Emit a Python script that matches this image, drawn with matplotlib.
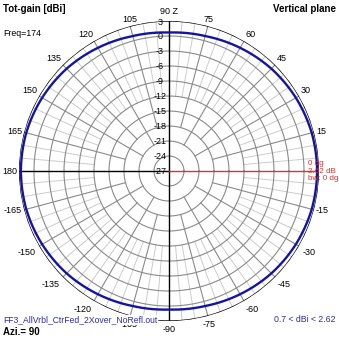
import numpy as np
import matplotlib
matplotlib.use("Agg")
import matplotlib.pyplot as plt

# -------------------------------------------------------------------------------
# Data
# -------------------------------------------------------------------------------

# elevation angle of each pattern sample [deg]
elev_deg = [0, 15, 30, 45, 60, 75, 90, 105, 120, 135, 150, 165, 180,
            195, 210, 225, 240, 255, 270, 285, 300, 315, 330, 345, 360]
# total gain [dBi]
gain_dbi = [2.62, 2.55, 2.3, 1.95, 1.45, 0.95, 0.7, 0.95, 1.45, 1.95, 2.3, 2.55, 2.62,
            2.55, 2.3, 1.95, 1.45, 0.95, 0.7, 0.95, 1.45, 1.95, 2.3, 2.55, 2.62]

ring_levels = [3, 0, -3, -6, -9, -12, -15, -18, -21, -24, -27]
angle_labels = [90, 105, 120, 135, 150, 165, 180, -165, -150, -135, -120, -105,
                -90, -75, -60, -45, -30, -15, 15, 30, 45, 60, 75]

R_MIN, R_MAX = -27, 3

plt.rcParams['font.family'] = ['Liberation Sans', 'DejaVu Sans']

fig = plt.figure(figsize=(3.39, 3.39), dpi=100)
ax = fig.add_axes([0.056, 0.053, 0.885, 0.885], projection='polar')
ax.set_ylim(R_MIN, R_MAX)
ax.grid(False)
ax.set_xticks([])
ax.set_yticks([])
ax.spines['polar'].set_visible(False)
ax.set_facecolor('white')

th = np.linspace(0, 2 * np.pi, 361)

# rings
for lev in ring_levels[1:-1]:
    ax.plot(th, np.full_like(th, lev), color='#8a8a8a', lw=0.8, zorder=1)
ax.plot(th, np.full_like(th, R_MAX), color='black', lw=1.0, zorder=3)

# spokes: 30 deg from -21, 15 deg from -18, 5 deg from -12
for a in range(0, 360, 5):
    if a % 90 == 0:
        continue
    t = np.radians(a)
    if a % 30 == 0:
        ax.plot([t, t], [-21, R_MAX], color='#8a8a8a', lw=0.8, zorder=1)
    elif a % 15 == 0:
        ax.plot([t, t], [-18, R_MAX], color='#8a8a8a', lw=0.8, zorder=1)
    else:
        ax.plot([t, t], [-12, R_MAX], color='#cccccc', lw=0.7, zorder=0.5)

# axes lines
ax.plot([np.pi / 2, np.pi / 2], [R_MAX, R_MIN], color='black', lw=1.0, zorder=2)
ax.plot([-np.pi / 2, -np.pi / 2], [R_MAX, R_MIN], color='black', lw=1.0, zorder=2)
ax.plot([np.pi, np.pi], [R_MAX, R_MIN], color='black', lw=1.0, zorder=2)
ax.plot([0, 0], [R_MIN, R_MAX], color='#e03030', lw=1.0, zorder=2)

# ring labels along the vertical axis
for lev in ring_levels:
    dy = -1.0 if lev == R_MAX else 0
    ax.annotate(str(lev), xy=(np.pi / 2, lev), xytext=(-6.5, dy),
                textcoords='offset points', ha='center', va='center',
                fontsize=6.5, color='black', zorder=4)

# angle labels outside the circle
for a in angle_labels:
    t = np.radians(a)
    c, s = np.cos(t), np.sin(t)
    ha = 'left' if c > 0.3 else ('right' if c < -0.3 else 'center')
    va = 'bottom' if s > 0.3 else ('top' if s < -0.3 else 'center')
    gap = 1.5 if s > -0.3 else 3.0
    if a == 90:
        gap = 3.5
    txt = '90 Z' if a == 90 else str(a)
    ax.annotate(txt, xy=(t, R_MAX), xytext=(gap * c, gap * s),
                textcoords='offset points', ha=ha, va=va,
                fontsize=6.5, color='black', annotation_clip=False)

# pattern (polar transform curves the segments)
trace, = ax.plot(np.radians(elev_deg), gain_dbi, color='#1414a0', lw=1.7, zorder=5)
trace.get_path()._interpolation_steps = 40

# max marker text
ax.annotate('0 dg\n2.62 dB\nbw: 0 dg', xy=(0, R_MAX), xytext=(-8, 0),
            textcoords='offset points', ha='left', va='center',
            fontsize=5.8, color='#e03030', linespacing=1.05, zorder=6)

# header / footer texts
fig.text(0.01, 0.987, 'Tot-gain [dBi]', fontsize=7, fontweight='bold',
         ha='left', va='top')
fig.text(0.01, 0.913, 'Freq=174', fontsize=6.3, ha='left', va='top')
fig.text(0.99, 0.987, 'Vertical plane', fontsize=7, fontweight='bold',
         ha='right', va='top')
fig.text(0.01, 0.043, 'FF3_AllVrbl_CtrFed_2Xover_NoRefl.out', fontsize=6.2,
         color='#2e2e9e', ha='left', va='bottom',
         bbox=dict(facecolor='white', edgecolor='none', pad=0.5))
fig.text(0.01, 0.006, 'Azi.= 90', fontsize=7, fontweight='bold',
         ha='left', va='bottom')
fig.text(0.99, 0.043, '0.7 < dBi < 2.62', fontsize=6.3, color='#2e2e9e',
         ha='right', va='bottom')

fig.savefig('out.png', dpi=100, facecolor='white')
